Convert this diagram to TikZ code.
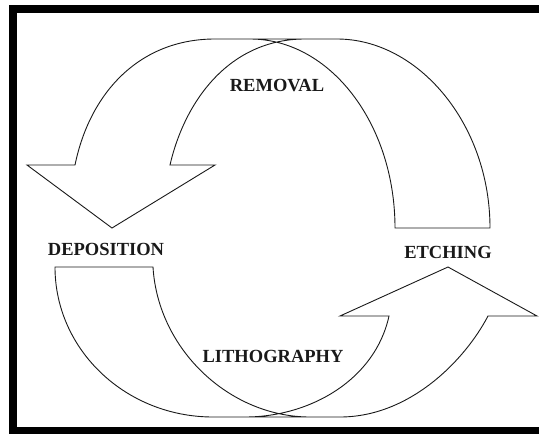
\documentclass[tikz,border=0pt]{standalone}
\usepackage{fontspec}
\setmainfont{Liberation Serif}
\begin{document}
\begin{tikzpicture}[x=1pt,y=-1pt,
	stagetxt/.style={font=\fontsize{18.5}{20}\selectfont\bfseries,inner sep=0pt,text=black!90},
	bandline/.style={draw=black!90,line width=0.9pt,line join=miter}]
	\useasboundingbox (0,0) rectangle (539,434);
	\clip (0,0) rectangle (539,434);

	%frame
	\draw[line width=8pt] (13,9) rectangle (560,431);

	%upper arrow
	\draw[bandline] (305,39) .. controls (230,39) and (185,100) .. (170,165) -- (215,165) -- (112,228) -- (27,165) -- (75,165)
		.. controls (90,92) and (140,39) .. (215,39) -- (337,39)
		.. controls (418,39) and (490,123.6) .. (490,228) -- (395,228)
		.. controls (395,123.6) and (330,39) .. (250,39);

	%lower arrow
	\draw[bandline] (245,417) .. controls (310,417) and (375,380) .. (389,316) -- (340,316) -- (448,267) -- (537,316) -- (488,316)
		.. controls (465,360) and (410,417) .. (340,417) -- (213,417)
		.. controls (125.7,417) and (55,349.8) .. (55,267) -- (153,267)
		.. controls (158,350) and (230,417) .. (310,417);

	%labels
	\node[stagetxt] (removal) at (277,86) {REMOVAL};
	\node[stagetxt] (deposition) at (106,249) {DEPOSITION};
	\node[stagetxt] (etching) at (448,252) {ETCHING};
	\node[stagetxt] (litho) at (273,356) {LITHOGRAPHY};
\end{tikzpicture}
\end{document}
